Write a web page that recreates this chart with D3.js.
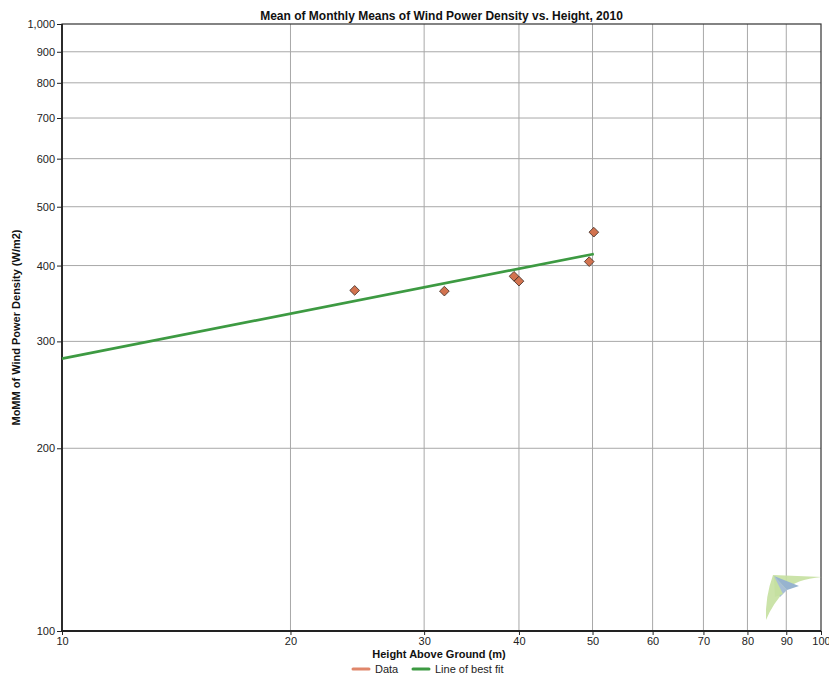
<!DOCTYPE html>
<html><head><meta charset="utf-8">
<script src="https://cdn.jsdelivr.net/npm/d3@7"></script>
<style>body{margin:0;background:#fff;}svg{display:block;font-family:"Liberation Sans",Arial,sans-serif;}</style>
</head><body>
<svg id="c" width="829" height="675"></svg>
<script>
// Data
const heights = [24.3, 31.9, 39.4, 40.0, 49.5, 50.2];
const wpd     = [364, 363, 384, 377, 406, 454];
const fitHeights = [10, 50.2];
const fitValues  = [281, 418];
const xTicks = [10,20,30,40,50,60,70,80,90,100];
const yTicks = [100,200,300,400,500,600,700,800,900,1000];
const seriesNames = ["Data","Line of best fit"];

const svg = d3.select("#c");
const L=62, R=821, T=24, B=631;
const x = d3.scaleLog().domain([10,100]).range([L,R]);
const y = d3.scaleLog().domain([100,1000]).range([B,T]);

// grid
svg.append("g").selectAll("line").data(xTicks.slice(1,-1)).join("line")
  .attr("x1",d=>x(d)).attr("x2",d=>x(d)).attr("y1",T).attr("y2",B)
  .attr("stroke","#a8a8a8").attr("stroke-width",1);
svg.append("g").selectAll("line").data(yTicks.slice(1,-1)).join("line")
  .attr("y1",d=>y(d)).attr("y2",d=>y(d)).attr("x1",L).attr("x2",R)
  .attr("stroke","#a8a8a8").attr("stroke-width",1);

// frame
svg.append("rect").attr("x",L).attr("y",T).attr("width",R-L).attr("height",B-T)
  .attr("fill","none").attr("stroke","#333").attr("stroke-width",1.2);
svg.append("line").attr("x1",L).attr("x2",L).attr("y1",T).attr("y2",B+1).attr("stroke","#222").attr("stroke-width",1.8);
svg.append("line").attr("x1",L-1).attr("x2",R).attr("y1",B).attr("y2",B).attr("stroke","#222").attr("stroke-width",1.8);

// axes
const fmt = d3.format(",");
const ya = svg.append("g").attr("transform",`translate(${L},0)`)
  .call(d3.axisLeft(y).tickValues(yTicks).tickFormat(fmt).tickSize(5).tickPadding(2));
const xa = svg.append("g").attr("transform",`translate(0,${B})`)
  .call(d3.axisBottom(x).tickValues(xTicks).tickFormat(d3.format("d")).tickSize(4).tickPadding(2));
[ya,xa].forEach(a=>{
  a.select(".domain").remove();
  a.selectAll(".tick line").attr("stroke","#222");
  a.selectAll("text").attr("font-size","11px").attr("fill","#222")
   .attr("font-family","'Liberation Sans',Arial,sans-serif");
});

// watermark logo
const lg = svg.append("g").attr("transform","translate(765,575)");
lg.append("path").attr("d","M8,0 L57,2 Q30,4 20,16 Q8,28 1,45 Q0,22 8,0 Z").attr("fill","#c5e0a0").attr("opacity",0.9);
lg.append("path").attr("d","M9,1 L34,11 L22,15 Z").attr("fill","#97b3cf");
lg.append("path").attr("d","M9,1 L22,15 L15,22 Z").attr("fill","#a7bed6");
lg.append("path").attr("d","M9,1 L18,19 L10,22 Z").attr("fill","#c5e0a0");

// fit line
const fit = fitHeights.map((h,i)=>({h, v:fitValues[i]}));
svg.append("path").datum(fit)
  .attr("d", d3.line().x(d=>x(d.h)).y(d=>y(d.v)))
  .attr("fill","none").attr("stroke","#3d9a42").attr("stroke-width",2.6);

// data diamonds
const pts = heights.map((h,i)=>({h, v:wpd[i]}));
svg.append("g").selectAll("path").data(pts).join("path")
  .attr("transform",d=>`translate(${x(d.h)},${y(d.v)})`)
  .attr("d", d3.symbol().type(d3.symbolDiamond2).size(60))
  .attr("fill","#d2734f").attr("stroke","#3a2a22").attr("stroke-width",0.8);

// title
svg.append("text").attr("x",(L+R)/2).attr("y",20).attr("text-anchor","middle")
  .attr("font-size","12px").attr("font-weight","bold").attr("fill","#111")
  .text("Mean of Monthly Means of Wind Power Density vs. Height, 2010");
svg.append("text").attr("x",439).attr("y",658).attr("text-anchor","middle")
  .attr("font-size","11px").attr("font-weight","bold").attr("fill","#111")
  .text("Height Above Ground (m)");
svg.append("text").attr("transform",`translate(20,${(T+B)/2}) rotate(-90)`).attr("text-anchor","middle")
  .attr("font-size","11px").attr("font-weight","bold").attr("fill","#111")
  .text("MoMM of Wind Power Density (W/m2)");

// legend
const legColors = ["#e0866a","#3d9a42"];
const legX = [353, 413];
seriesNames.forEach((n,i)=>{
  svg.append("line").attr("x1",legX[i]).attr("x2",legX[i]+16).attr("y1",669).attr("y2",669)
    .attr("stroke",legColors[i]).attr("stroke-width",3).attr("stroke-linecap","round");
  svg.append("text").attr("x",legX[i]+22).attr("y",673).attr("font-size","11px").attr("fill","#222").text(n);
});
</script>
</body></html>
